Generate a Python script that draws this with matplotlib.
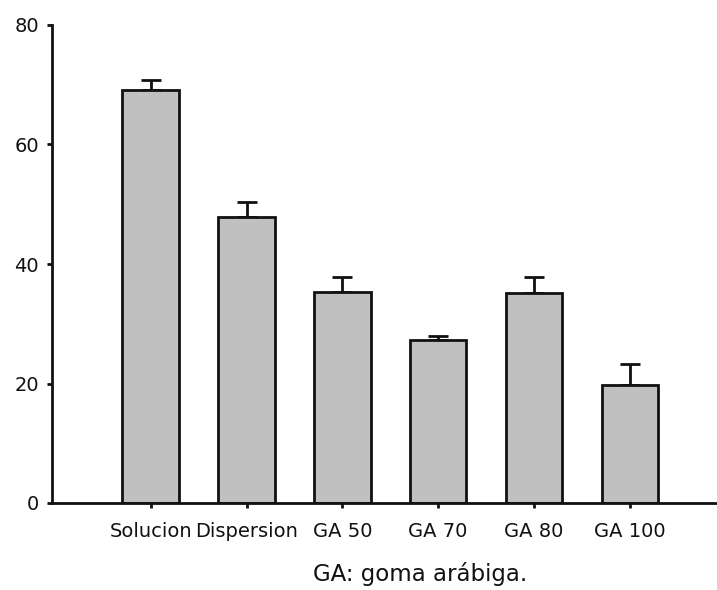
import matplotlib
matplotlib.use("Agg")
import matplotlib.pyplot as plt
import numpy as np

categories = ["Solucion", "Dispersion", "GA 50", "GA 70", "GA 80", "GA 100"]
values = [69.1, 47.8, 35.3, 27.3, 35.2, 19.7]
errors = [1.7, 2.5, 2.5, 0.7, 2.7, 3.6]
yticks = [0, 20, 40, 60, 80]
caption = "GA: goma arábiga."

plt.rcParams['font.family'] = ['DejaVu Sans']
fig = plt.figure(figsize=(7.17, 5.90), dpi=100)
ax = fig.add_axes([52/717, 87/590, 664/717, 478/590])

x = np.arange(len(categories))
ax.bar(x, values, width=0.59, color="#c0c0c0", edgecolor="#111111", linewidth=2, zorder=2)
ax.errorbar(x, values, yerr=[np.zeros(len(errors)), errors], fmt="none",
            ecolor="#111111", elinewidth=2, capsize=7, capthick=2, zorder=1)

ax.set_xlim(-1.03, 5.9)
ax.set_ylim(0, 80)
ax.set_yticks(yticks)
ax.set_xticks(x)
ax.set_xticklabels(categories, fontsize=14)
for s in ["top", "right"]:
    ax.spines[s].set_visible(False)
for s in ["left", "bottom"]:
    ax.spines[s].set_linewidth(2)
    ax.spines[s].set_color("#111111")
ax.tick_params(axis="both", direction="out", width=2, length=3.5, labelsize=14, color="#111111",
               labelcolor="#111111")
ax.tick_params(axis="x", pad=10, labelsize=14)
ax.tick_params(axis="y", pad=6)

fig.text(420/717, 1 - 574/590, caption, ha="center", va="center", fontsize=16.5, color="#111111")

fig.savefig("out.png", dpi=100)
